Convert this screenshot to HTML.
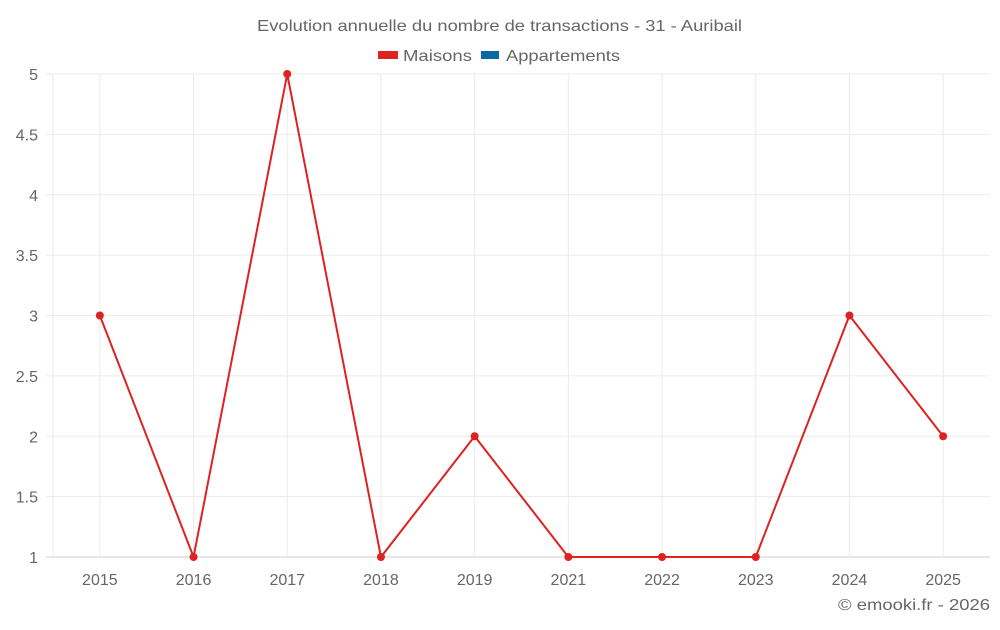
<!DOCTYPE html>
<html><head><meta charset="utf-8"><style>
body{margin:0;background:#fff;font-family:"Liberation Sans",sans-serif}
svg text{font-family:"Liberation Sans",sans-serif;fill:#666}
</style></head><body>
<svg id="c" width="1000" height="625">
<text x="257" y="31" font-size="16" textLength="485" lengthAdjust="spacingAndGlyphs">Evolution annuelle du nombre de transactions - 31 - Auribail</text>
<g><rect x="378" y="51" width="20" height="8" fill="#dd2222"/><text x="403" y="61" font-size="16" textLength="69" lengthAdjust="spacingAndGlyphs">Maisons</text></g>
<g><rect x="481" y="51" width="18" height="8" fill="#0a6aa1"/><text x="506" y="61" font-size="16" textLength="114" lengthAdjust="spacingAndGlyphs">Appartements</text></g>
<g id="grid"></g><g id="marks"></g>
<text x="838" y="610" font-size="16" textLength="152" lengthAdjust="spacingAndGlyphs">© emooki.fr - 2026</text>
</svg>
<script>
const categories=["2015","2016","2017","2018","2019","2021","2022","2023","2024","2025"];
const maisons=[3,1,5,1,2,1,1,1,3,2];
const yTicks=[1,1.5,2,2.5,3,3.5,4,4.5,5];
const L=53,R=990,T=74,B=557,yMin=1,yMax=5;
const bw=(R-L)/categories.length;
const x=i=>L+bw*(i+0.5);
const y=v=>B-(v-yMin)/(yMax-yMin)*(B-T);
const NS="http://www.w3.org/2000/svg";
const g=document.getElementById('grid'),m=document.getElementById('marks');
function mk(p,tag,a){const e=document.createElementNS(NS,tag);for(const k in a)e.setAttribute(k,a[k]);p.appendChild(e);return e;}
yTicks.forEach(v=>{
 const l=mk(g,'line',{x1:46,x2:R,y1:y(v),y2:y(v),stroke:v===yMin?'#ccc':'#ebebeb'});
 
 
 const t=mk(g,'text',{x:38,y:y(v)+6,'text-anchor':'end','font-size':16});t.textContent=v;
 
 
});
mk(g,'line',{x1:L,x2:L,y1:T,y2:B,stroke:'#ebebeb'});
categories.forEach((c,i)=>{
 const l=mk(g,'line',{x1:x(i),x2:x(i),y1:T,y2:B,stroke:'#ebebeb'});
 
 
 const t=mk(g,'text',{x:x(i),y:585,'text-anchor':'middle','font-size':16});t.textContent=c;
 
 
});
const p=mk(m,'polyline',{points:maisons.map((v,i)=>x(i)+','+y(v)).join(' '),fill:'none',stroke:'#dd2222','stroke-width':2});


maisons.forEach((v,i)=>{
 const d=mk(m,'circle',{cx:x(i),cy:y(v),r:4,fill:'#dd2222'});
 
 
});
</script>
</body></html>
